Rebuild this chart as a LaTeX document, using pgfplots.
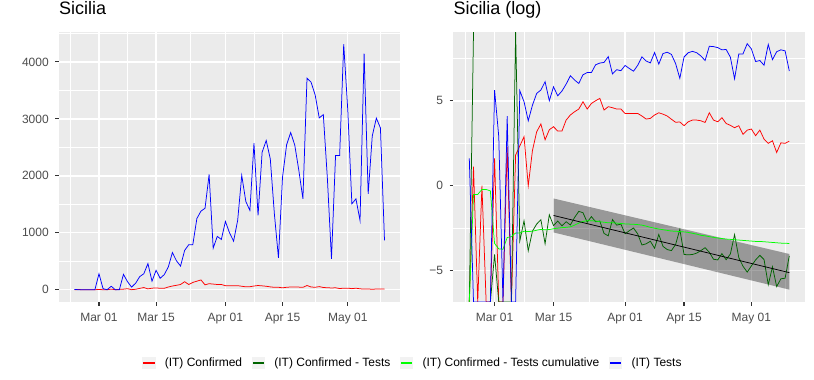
\documentclass[border=0pt]{standalone}
\usepackage{fontspec}
\setmainfont{Liberation Sans}
\usepackage{pgfplots}
\usepackage{pgfplotstable}
\pgfplotsset{compat=1.18}

\definecolor{panelbg}{HTML}{EBEBEB}
\definecolor{keybg}{HTML}{F2F2F2}
\definecolor{ticklab}{HTML}{4D4D4D}
\definecolor{tickcol}{HTML}{333333}
\definecolor{ggred}{HTML}{FF0000}
\definecolor{ggdkgreen}{HTML}{006400}
\definecolor{gggreen}{HTML}{00FF00}
\definecolor{ggblue}{HTML}{0000FF}

% daily values, day 0 = Mar 01
\pgfplotstableread{
d tests conf
-6 5 0
-5 0 3
-4 0 0
-3 0 1
-2 0 0
-1 0 0
0 281 5
1 18 0
2 0 0
3 61 10
4 0 0
5 0 6
6 270 10
7 141 18
8 46 1
9 116 8
10 231 24
11 281 38
12 459 15
13 150 27
14 341 32
15 201 25
16 265 25
17 400 48
18 652 65
19 507 78
20 416 92
21 690 141
22 790 92
23 790 128
24 1250 150
25 1380 172
26 1430 86
27 2023 106
28 730 99
29 936 92
30 883 92
31 1199 71
32 1000 71
33 854 71
34 1216 71
35 2006 61
36 1550 51
37 1392 53
38 2573 65
39 1304 74
40 2415 68
41 2620 61
42 2298 50
43 1333 42
44 561 43
45 1977 34
46 2544 43
47 2760 48
48 2540 48
49 2094 46
50 1597 42
51 3713 74
52 3643 48
53 3420 43
54 3017 55
55 3075 39
56 1950 35
57 544 31
58 2357 34
59 2357 21
60 4310 27
61 3150 28
62 1508 19
63 1596 27
64 1215 16
65 4145 12
66 1684 14
67 2700 7
68 3013 13
69 2841 12
70 865 14
}\dailytab

% log panel, -6.85 / 9.06 = clipped -Inf / +Inf
\pgfplotstableread{
d lc lr lcum lt
-6 -6.85 -6.85 -6.85 1.61
-5 1.12 9.06 -0.51 -6.85
-4 -6.85 nan -0.51 -6.85
-3 0 nan -0.22 -6.85
-2 -6.85 nan -0.22 -6.85
-1 -6.85 -6.85 -0.30 -6.85
0 1.61 -4.05 -3.40 5.64
1 -6.85 -6.85 -3.72 2.89
2 -6.85 -6.85 -3.74 -6.85
3 2.30 -6.85 -3.05 4.11
4 -6.85 -6.85 -3.00 -6.85
5 1.81 9.06 -2.78 -6.85
6 2.35 -3.25 -2.78 5.60
7 2.89 -2.06 -2.68 4.95
8 0 -3.83 -2.70 3.83
9 2.08 -2.67 -2.68 4.75
10 3.18 -2.26 -2.62 5.44
11 3.64 -2.00 -2.57 5.64
12 2.71 -3.42 -2.60 6.13
13 3.30 -1.71 -2.58 5.01
14 3.48 -2.35 -2.53 5.83
15 3.22 -2.08 -2.50 5.30
16 3.22 -2.36 -2.47 5.58
17 3.87 -2.12 -2.45 5.99
18 4.17 -2.31 -2.42 6.48
19 4.36 -1.87 -2.32 6.23
20 4.52 -1.51 -2.20 6.03
21 4.95 -1.59 -2.10 6.54
22 4.52 -2.15 -2.06 6.67
23 4.85 -1.82 -2.06 6.67
24 5.01 -2.12 -2.08 7.13
25 5.15 -2.08 -2.12 7.23
26 4.46 -2.81 -2.15 7.27
27 4.66 -2.95 -2.18 7.61
28 4.60 -1.99 -2.18 6.59
29 4.52 -2.32 -2.20 6.84
30 4.52 -2.26 -2.22 6.78
31 4.26 -2.83 -2.25 7.09
32 4.26 -2.65 -2.26 6.91
33 4.26 -2.49 -2.27 6.75
34 4.26 -2.84 -2.29 7.10
35 4.11 -3.49 -2.32 7.60
36 3.93 -3.42 -2.38 7.35
37 3.97 -3.27 -2.45 7.24
38 4.17 -3.68 -2.50 7.85
39 4.30 -2.87 -2.55 7.17
40 4.22 -3.57 -2.59 7.79
41 4.11 -3.76 -2.63 7.87
42 3.92 -3.82 -2.67 7.74
43 3.74 -3.46 -2.68 7.20
44 3.76 -2.57 -2.70 6.33
45 3.54 -4.05 -2.72 7.59
46 3.77 -4.07 -2.75 7.84
47 3.87 -4.05 -2.80 7.92
48 3.87 -3.97 -2.85 7.84
49 3.83 -3.82 -2.92 7.65
50 3.73 -3.65 -2.95 7.38
51 4.30 -3.92 -3.00 8.22
52 3.87 -4.33 -3.04 8.20
53 3.77 -4.37 -3.08 8.14
54 4.01 -4.00 -3.11 8.01
55 3.67 -4.36 -3.14 8.03
56 3.56 -4.02 -3.16 7.58
57 3.42 -2.88 -3.18 6.30
58 3.54 -4.23 -3.20 7.77
59 3.03 -4.74 -3.22 7.77
60 3.28 -5.09 -3.24 8.37
61 3.34 -4.72 -3.26 8.06
62 2.95 -4.37 -3.28 7.32
63 3.28 -4.10 -3.28 7.38
64 2.75 -4.35 -3.30 7.10
65 2.50 -5.83 -3.32 8.33
66 2.65 -4.78 -3.34 7.43
67 1.96 -5.94 -3.36 7.90
68 2.53 -5.48 -3.38 8.01
69 2.50 -5.45 -3.39 7.95
70 2.63 -4.13 -3.40 6.76
}\logtab

\pgfplotsset{
  ggpanel/.style={
    scale only axis,
    height=270bp,
    xmin=-9.8, xmax=73.8,
    axis background/.style={fill=panelbg},
    axis line style={draw=none},
    grid=both,
    major grid style={white, line width=1.4bp},
    minor grid style={white, line width=0.7bp},
    tick align=outside,
    xtick pos=bottom, ytick pos=left,
    major tick length=3.8bp,
    minor tick length=0pt,
    major tick style={draw=tickcol, line width=1.1bp},
    xtick={0,14,31,45,61},
    xticklabels={Mar 01,Mar 15,Apr 01,Apr 15,May 01},
    minor xtick={-7,7,22.5,38,53,69},
    tick label style={font=\fontsize{12bp}{14bp}\selectfont, text=ticklab, inner sep=0pt},
    xticklabel style={anchor=north, yshift=-7.3bp},
    yticklabel style={anchor=east, xshift=-6.3bp},
    title style={at={(0,1)}, anchor=base west, yshift=11.3bp, inner sep=0pt,
      font=\fontsize{18bp}{21bp}\selectfont},
    unbounded coords=jump,
  },
  keyred/.style={legend image code/.code={
      \fill[keybg] (0bp,-5.75bp) rectangle (12.5bp,5.75bp);
      \fill[ggred] (1bp,-0.4bp) rectangle (11.5bp,0.4bp);}},
  keydkgreen/.style={legend image code/.code={
      \fill[keybg] (0bp,-5.75bp) rectangle (12.5bp,5.75bp);
      \fill[ggdkgreen] (1bp,-0.4bp) rectangle (11.5bp,0.4bp);}},
  keygreen/.style={legend image code/.code={
      \fill[keybg] (0bp,-5.75bp) rectangle (12.5bp,5.75bp);
      \fill[gggreen] (1bp,-0.4bp) rectangle (11.5bp,0.4bp);}},
  keyblue/.style={legend image code/.code={
      \fill[keybg] (0bp,-5.75bp) rectangle (12.5bp,5.75bp);
      \fill[ggblue] (1bp,-0.4bp) rectangle (11.5bp,0.4bp);}},
}

\begin{document}
\begin{tikzpicture}
\path[use as bounding box, fill=white] (0,0) rectangle (814bp,380bp);

\begin{axis}[ggpanel,
  at={(59bp,78bp)}, anchor=south west,
  width=341bp,
  ymin=-215.5, ymax=4525.5,
  ytick={0,1000,2000,3000,4000},
  yticklabels={0,1000,2000,3000,4000},
  minor ytick={500,1500,2500,3500,4500},
  title={Sicilia},
]
\addplot[ggred, line width=0.75bp] table[x=d, y=conf] {\dailytab};
\addplot[ggblue, line width=0.75bp] table[x=d, y=tests] {\dailytab};
\end{axis}

\begin{axis}[ggpanel,
  at={(453.3bp,78bp)}, anchor=south west,
  width=352bp,
  ymin=-6.85, ymax=9.06,
  ytick={-5,0,5},
  yticklabels={−5,0,5},
  minor ytick={-2.5,2.5,7.5},
  title={Sicilia (log)},
  legend columns=4,
  legend style={at={(-0.115,-0.226)}, anchor=center, draw=none, fill=none,
    font=\fontsize{12bp}{14bp}\selectfont, column sep=7.5bp, inner sep=0pt},
]
\addplot[fill=black, fill opacity=0.35, draw=none, forget plot]
  coordinates {(14,-0.75) (70,-4.02) (70,-6.12) (14,-2.75)};
\addplot[ggred, line width=0.75bp, keyred] table[x=d, y=lc] {\logtab};
\addlegendentry{(IT) Confirmed}
\addplot[ggdkgreen, line width=0.75bp, keydkgreen] table[x=d, y=lr] {\logtab};
\addlegendentry{(IT) Confirmed - Tests}
\addplot[gggreen, line width=0.75bp, keygreen] table[x=d, y=lcum] {\logtab};
\addlegendentry{(IT) Confirmed - Tests cumulative}
\addplot[ggblue, line width=0.75bp, keyblue] table[x=d, y=lt] {\logtab};
\addlegendentry{(IT) Tests}
\addplot[black, line width=0.75bp, forget plot] coordinates {(14,-1.75) (70,-5.12)};
\end{axis}
\end{tikzpicture}
\end{document}
